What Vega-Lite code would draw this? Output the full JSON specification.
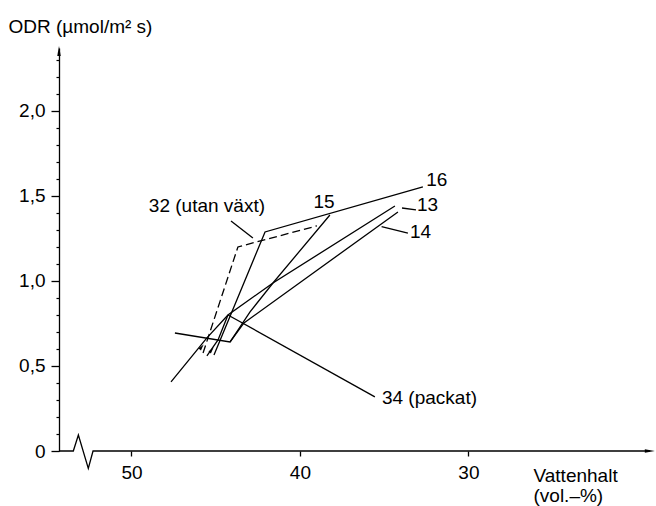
{
  "$schema": "https://vega.github.io/schema/vega-lite/v6.json",
  "width": 593,
  "height": 403,
  "autosize": {"type": "none"},
  "padding": {"left": 59, "top": 48, "right": 4, "bottom": 55},
  "background": "white",
  "config": {
    "view": {"stroke": null},
    "font": "Liberation Sans",
    "axis": {
      "labelFont": "Liberation Sans",
      "titleFont": "Liberation Sans",
      "labelColor": "black",
      "titleColor": "black",
      "domainColor": "black",
      "tickColor": "black",
      "grid": false,
      "labelFontSize": 19,
      "titleFontSize": 19,
      "titleFontWeight": "normal",
      "labelOverlap": false,
      "labelFlush": false
    },
    "text": {"font": "Liberation Sans", "fontSize": 19, "color": "black"}
  },
  "datasets": {
    "curves": [
      {"s": "13", "i": 0, "x": 34.36, "y": 1.441},
      {"s": "13", "i": 1, "x": 41.60, "y": 0.988},
      {"s": "13", "i": 2, "x": 42.96, "y": 0.818},
      {"s": "13", "i": 3, "x": 44.15, "y": 0.641},
      {"s": "13", "i": 4, "x": 47.42, "y": 0.694},
      {"s": "14", "i": 0, "x": 34.18, "y": 1.406},
      {"s": "14", "i": 1, "x": 43.32, "y": 0.753},
      {"s": "14", "i": 2, "x": 44.15, "y": 0.641},
      {"s": "15", "i": 0, "x": 38.22, "y": 1.388},
      {"s": "15", "i": 1, "x": 41.60, "y": 0.988},
      {"s": "15", "i": 2, "x": 44.27, "y": 0.800},
      {"s": "15", "i": 3, "x": 44.86, "y": 0.653},
      {"s": "15", "i": 4, "x": 45.52, "y": 0.559},
      {"s": "16", "i": 0, "x": 45.10, "y": 0.565},
      {"s": "16", "i": 1, "x": 42.07, "y": 1.288},
      {"s": "16", "i": 2, "x": 32.70, "y": 1.553},
      {"s": "32", "i": 0, "x": 45.75, "y": 0.576},
      {"s": "32", "i": 1, "x": 43.68, "y": 1.200},
      {"s": "32", "i": 2, "x": 38.99, "y": 1.324},
      {"s": "34", "i": 0, "x": 47.65, "y": 0.406},
      {"s": "34", "i": 1, "x": 45.52, "y": 0.665},
      {"s": "34", "i": 2, "x": 44.27, "y": 0.800},
      {"s": "L32", "i": 0, "x": 44.09, "y": 1.353},
      {"s": "L32", "i": 1, "x": 42.79, "y": 1.253},
      {"s": "L13", "i": 0, "x": 33.94, "y": 1.429},
      {"s": "L13", "i": 1, "x": 33.11, "y": 1.418},
      {"s": "L14", "i": 0, "x": 35.15, "y": 1.319},
      {"s": "L14", "i": 1, "x": 33.59, "y": 1.281},
      {"s": "L34", "i": 0, "x": 44.27, "y": 0.800},
      {"s": "L34", "i": 1, "x": 35.55, "y": 0.318}
    ],
    "xaxisline": [
      {"i": 0, "x": 54.30, "y": 0},
      {"i": 1, "x": 53.45, "y": 0},
      {"i": 2, "x": 53.15, "y": 0.094},
      {"i": 3, "x": 52.56, "y": -0.102},
      {"i": 4, "x": 52.28, "y": 0},
      {"i": 5, "x": 19.23, "y": 0}
    ],
    "arrows": [
      {"dir": "up", "x": 54.30, "y": 2.353},
      {"dir": "right", "x": 19.23, "y": 0}
    ],
    "dirmarks": [
      {"x": 45.83, "y": 0.612},
      {"x": 45.24, "y": 0.594}
    ],
    "labels": [
      {"t": "32 (utan växt)", "x": 42.07, "y": 1.441},
      {"t": "15", "x": 38.57, "y": 1.462},
      {"t": "16", "x": 31.87, "y": 1.594},
      {"t": "13", "x": 33.05, "y": 1.447},
      {"t": "14", "x": 33.47, "y": 1.285},
      {"t": "34 (packat)", "x": 35.13, "y": 0.312}
    ]
  },
  "layer": [
    {
      "data": {"name": "curves"},
      "transform": [{"filter": "datum.s != '32'"}],
      "mark": {"type": "line", "color": "black", "strokeWidth": 1.3},
      "encoding": {
        "x": {
          "field": "x", "type": "quantitative",
          "scale": {"domain": [19.1, 54.3], "reverse": true, "nice": false, "zero": false},
          "axis": {
            "orient": "bottom",
            "values": [50, 40, 30],
            "format": "d",
            "domain": false,
            "tickSize": 5,
            "tickWidth": 1.3,
            "labelPadding": 7,
            "title": ["Vattenhalt", "(vol.–%)"],
            "titleAlign": "left",
            "titleBaseline": "alphabetic",
            "titleX": 474,
            "titleY": 30,
            "titleLineHeight": 20
          }
        },
        "y": {
          "field": "y", "type": "quantitative",
          "scale": {"domain": [0, 2.37], "nice": false, "zero": false},
          "axis": {
            "orient": "left",
            "values": [0, 0.5, 1, 1.5, 2],
            "tickSize": 8,
            "tickWidth": 1.3,
            "domainWidth": 1.3,
            "labelPadding": 6,
            "labelExpr": "datum.value == 0 ? '0' : replace(format(datum.value, '.1f'), '.', ',')",
            "title": "ODR (µmol/m² s)",
            "titleAngle": 0,
            "titleAlign": "left",
            "titleBaseline": "alphabetic",
            "titleX": -51,
            "titleY": -16
          }
        },
        "detail": {"field": "s"},
        "order": {"field": "i"}
      }
    },
    {
      "data": {"name": "curves"},
      "transform": [{"filter": "datum.s == '32'"}],
      "mark": {"type": "line", "color": "black", "strokeWidth": 1.3, "strokeDash": [8, 4]},
      "encoding": {
        "x": {"field": "x", "type": "quantitative", "scale": {"domain": [19.1, 54.3], "reverse": true, "nice": false, "zero": false}, "axis": null},
        "y": {"field": "y", "type": "quantitative", "scale": {"domain": [0, 2.37], "nice": false, "zero": false}, "axis": null},
        "order": {"field": "i"}
      }
    },
    {
      "data": {"name": "xaxisline"},
      "mark": {"type": "line", "color": "black", "strokeWidth": 1.3},
      "encoding": {
        "x": {"field": "x", "type": "quantitative", "scale": {"domain": [19.1, 54.3], "reverse": true, "nice": false, "zero": false}, "axis": null},
        "y": {
          "field": "y", "type": "quantitative",
          "scale": {"domain": [0, 2.37], "nice": false, "zero": false},
          "axis": {
            "orient": "left",
            "values": [0.1, 0.2, 0.3, 0.4, 0.6, 0.7, 0.8, 0.9, 1.1, 1.2, 1.3, 1.4, 1.6, 1.7, 1.8, 1.9, 2.1, 2.2, 2.3],
            "tickSize": 3,
            "tickWidth": 1.2,
            "labels": false,
            "domain": false,
            "title": null
          }
        },
        "order": {"field": "i"}
      }
    },
    {
      "data": {"name": "arrows"},
      "transform": [{"filter": "datum.dir == 'up'"}],
      "mark": {"type": "point", "shape": "M0,-1L0.35,1L-0.35,1Z", "filled": true, "color": "black", "size": 100, "opacity": 1},
      "encoding": {
        "x": {"field": "x", "type": "quantitative", "scale": {"domain": [19.1, 54.3], "reverse": true, "nice": false, "zero": false}, "axis": null},
        "y": {"field": "y", "type": "quantitative", "scale": {"domain": [0, 2.37], "nice": false, "zero": false}, "axis": null}
      }
    },
    {
      "data": {"name": "arrows"},
      "transform": [{"filter": "datum.dir == 'right'"}],
      "mark": {"type": "point", "shape": "M1,0L-1,-0.35L-1,0.35Z", "filled": true, "color": "black", "size": 100, "opacity": 1},
      "encoding": {
        "x": {"field": "x", "type": "quantitative", "scale": {"domain": [19.1, 54.3], "reverse": true, "nice": false, "zero": false}, "axis": null},
        "y": {"field": "y", "type": "quantitative", "scale": {"domain": [0, 2.37], "nice": false, "zero": false}, "axis": null}
      }
    },
    {
      "data": {"name": "dirmarks"},
      "mark": {"type": "point", "shape": "M0,-1L0.5,1L-0.5,1Z", "filled": true, "color": "black", "size": 40, "angle": 38, "opacity": 1},
      "encoding": {
        "x": {"field": "x", "type": "quantitative", "scale": {"domain": [19.1, 54.3], "reverse": true, "nice": false, "zero": false}, "axis": null},
        "y": {"field": "y", "type": "quantitative", "scale": {"domain": [0, 2.37], "nice": false, "zero": false}, "axis": null}
      }
    },
    {
      "data": {"name": "labels"},
      "transform": [{"filter": "datum.t == '32 (utan växt)'"}],
      "mark": {"type": "text", "align": "right", "baseline": "middle"},
      "encoding": {
        "x": {"field": "x", "type": "quantitative", "scale": {"domain": [19.1, 54.3], "reverse": true, "nice": false, "zero": false}, "axis": null},
        "y": {"field": "y", "type": "quantitative", "scale": {"domain": [0, 2.37], "nice": false, "zero": false}, "axis": null},
        "text": {"field": "t"}
      }
    },
    {
      "data": {"name": "labels"},
      "transform": [{"filter": "datum.t == '15' || datum.t == '16'"}],
      "mark": {"type": "text", "align": "center", "baseline": "middle"},
      "encoding": {
        "x": {"field": "x", "type": "quantitative", "scale": {"domain": [19.1, 54.3], "reverse": true, "nice": false, "zero": false}, "axis": null},
        "y": {"field": "y", "type": "quantitative", "scale": {"domain": [0, 2.37], "nice": false, "zero": false}, "axis": null},
        "text": {"field": "t"}
      }
    },
    {
      "data": {"name": "labels"},
      "transform": [{"filter": "datum.t == '13' || datum.t == '14' || datum.t == '34 (packat)'"}],
      "mark": {"type": "text", "align": "left", "baseline": "middle"},
      "encoding": {
        "x": {"field": "x", "type": "quantitative", "scale": {"domain": [19.1, 54.3], "reverse": true, "nice": false, "zero": false}, "axis": null},
        "y": {"field": "y", "type": "quantitative", "scale": {"domain": [0, 2.37], "nice": false, "zero": false}, "axis": null},
        "text": {"field": "t"}
      }
    }
  ],
  "resolve": {"axis": {"x": "independent", "y": "independent"}}
}
